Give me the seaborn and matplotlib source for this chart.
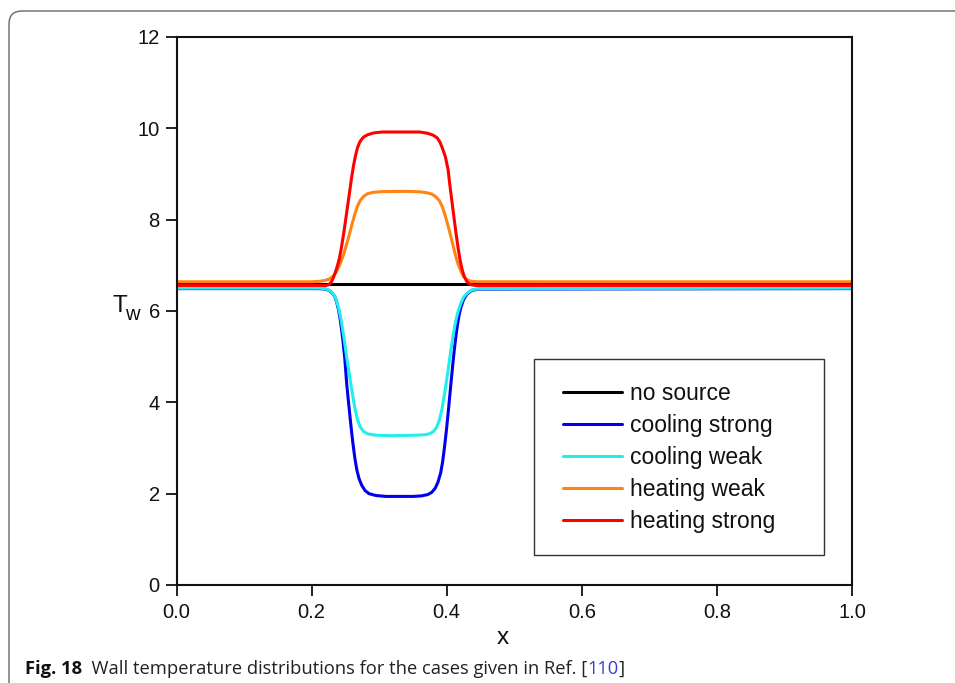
import numpy as np
import pandas as pd
import matplotlib
matplotlib.use("Agg")
import matplotlib.pyplot as plt
import seaborn as sns
from matplotlib.patches import FancyBboxPatch, Rectangle
from matplotlib.transforms import IdentityTransform
from matplotlib.offsetbox import TextArea, HPacker, AnchoredOffsetbox

# ---- wall temperature profiles T_w(x) ----
cases = ["no source", "cooling strong", "cooling weak", "heating weak", "heating strong"]
colors = ["#000000", "#0000ee", "#22eeee", "#ff8412", "#ff0000"]

x_none = [0.0, 1.0]
t_none = [6.60, 6.60]

x_cool_strong = [0.0, 0.210, 0.220, 0.226, 0.230, 0.234, 0.237, 0.240, 0.243, 0.246,
                 0.249, 0.252, 0.255, 0.258, 0.261, 0.264, 0.267, 0.270, 0.274, 0.279,
                 0.285, 0.295, 0.310, 0.350, 0.362, 0.372, 0.378, 0.383, 0.387, 0.391,
                 0.394, 0.397, 0.400, 0.403, 0.406, 0.409, 0.412, 0.415, 0.418, 0.421,
                 0.425, 0.430, 0.437, 0.447, 1.0]
t_cool_strong = [6.49, 6.49, 6.48, 6.45, 6.40, 6.32, 6.20, 6.02, 5.75, 5.40,
                 4.98, 4.40, 3.95, 3.52, 3.12, 2.78, 2.52, 2.34, 2.19, 2.07,
                 2.00, 1.96, 1.94, 1.94, 1.95, 1.98, 2.03, 2.12, 2.25, 2.45,
                 2.70, 3.05, 3.45, 3.90, 4.37, 4.83, 5.25, 5.60, 5.88, 6.08,
                 6.25, 6.37, 6.45, 6.48, 6.49]

x_cool_weak = [0.0, 0.212, 0.222, 0.228, 0.232, 0.236, 0.240, 0.244, 0.248, 0.252,
               0.256, 0.260, 0.264, 0.268, 0.272, 0.277, 0.283, 0.295, 0.320, 0.355,
               0.368, 0.376, 0.381, 0.385, 0.389, 0.393, 0.397, 0.401, 0.405, 0.409,
               0.413, 0.417, 0.421, 0.425, 0.430, 0.437, 0.447, 1.0]
t_cool_weak = [6.50, 6.50, 6.48, 6.44, 6.37, 6.26, 6.07, 5.78, 5.40, 4.98,
               4.60, 4.22, 3.88, 3.62, 3.46, 3.36, 3.31, 3.28, 3.27, 3.28,
               3.29, 3.32, 3.37, 3.45, 3.60, 3.85, 4.20, 4.60, 5.02, 5.42,
               5.76, 6.00, 6.17, 6.30, 6.39, 6.46, 6.49, 6.50]

x_heat_weak = [0.0, 0.200, 0.212, 0.220, 0.226, 0.231, 0.236, 0.240, 0.244, 0.248,
               0.252, 0.256, 0.260, 0.264, 0.268, 0.272, 0.277, 0.283, 0.292, 0.305,
               0.340, 0.360, 0.370, 0.378, 0.384, 0.389, 0.393, 0.397, 0.401, 0.405,
               0.409, 0.413, 0.417, 0.421, 0.425, 0.430, 0.436, 0.445, 1.0]
t_heat_weak = [6.64, 6.64, 6.65, 6.67, 6.70, 6.75, 6.84, 6.96, 7.10, 7.27,
               7.47, 7.68, 7.91, 8.12, 8.30, 8.42, 8.51, 8.57, 8.60, 8.615,
               8.62, 8.61, 8.59, 8.56, 8.50, 8.42, 8.30, 8.13, 7.92, 7.70,
               7.46, 7.22, 7.02, 6.87, 6.76, 6.69, 6.65, 6.64, 6.64]

x_heat_strong = [0.0, 0.215, 0.222, 0.226, 0.229, 0.232, 0.235, 0.238, 0.241, 0.244,
                 0.247, 0.250, 0.253, 0.256, 0.259, 0.262, 0.265, 0.268, 0.272, 0.277,
                 0.283, 0.292, 0.305, 0.360, 0.372, 0.380, 0.386, 0.390, 0.394, 0.398,
                 0.402, 0.405, 0.408, 0.411, 0.414, 0.417, 0.420, 0.423, 0.426, 0.430,
                 0.435, 0.442, 1.0]
t_heat_strong = [6.56, 6.56, 6.56, 6.58, 6.63, 6.72, 6.84, 6.98, 7.14, 7.38,
                 7.65, 7.95, 8.27, 8.58, 8.90, 9.18, 9.40, 9.58, 9.72, 9.81,
                 9.86, 9.90, 9.92, 9.92, 9.89, 9.85, 9.79, 9.70, 9.55, 9.38,
                 9.10, 8.72, 8.37, 8.02, 7.68, 7.37, 7.10, 6.90, 6.75, 6.64,
                 6.58, 6.56, 6.56]

x_ticks = [0.0, 0.2, 0.4, 0.6, 0.8, 1.0]
x_ticklabels = ["0.0", "0.2", "0.4", "0.6", "0.8", "1.0"]
y_ticks = [0, 2, 4, 6, 8, 10, 12]
y_ticklabels = ["0", "2", "4", "6", "8", "10", "12"]

profiles = [(x_none, t_none), (x_cool_strong, t_cool_strong), (x_cool_weak, t_cool_weak),
            (x_heat_weak, t_heat_weak), (x_heat_strong, t_heat_strong)]
df = pd.concat(
    [pd.DataFrame({"x": xs, "T": ts, "case": name}) for name, (xs, ts) in zip(cases, profiles)],
    ignore_index=True,
)

sns.set_theme(style="ticks")
plt.rcParams["font.family"] = ["Liberation Sans", "DejaVu Sans"]
plt.rcParams["axes.edgecolor"] = "#111111"
plt.rcParams["axes.linewidth"] = 1.5

W, H = 955, 683
fig = plt.figure(figsize=(W / 100, H / 100), dpi=100, facecolor="white")
ax = fig.add_axes([176.5 / W, 1 - 585 / H, 675.5 / W, 548 / H])

sns.lineplot(data=df, x="x", y="T", hue="case", hue_order=cases,
             palette=dict(zip(cases, colors)), linewidth=2.2, ax=ax,
             estimator=None, sort=False, legend=True)

ax.set_xlim(0, 1)
ax.set_ylim(0, 12)
ax.set_xticks(x_ticks)
ax.set_xticklabels(x_ticklabels)
ax.set_yticks(y_ticks)
ax.set_yticklabels(y_ticklabels)
ax.tick_params(axis="both", direction="out", length=8, width=1.3, labelsize=14.5,
               color="#111111", labelcolor="#111111", pad=4)
ax.tick_params(axis="x", pad=5)
for s in ax.spines.values():
    s.set_visible(True)
    s.set_linewidth(1.5)

ax.set_xlabel("x", fontsize=17.5, color="#111111")
ax.xaxis.label.set_va("center")
ax.xaxis.set_label_coords((503 - 176.5) / 675.5, -(638 - 585) / 548)
ax.set_ylabel("")
# T_w label beside the y axis
ax.text((112 - 176.5) / 675.5, (585 - 312) / 548, "T", transform=ax.transAxes,
        fontsize=17.5, ha="left", va="baseline", color="#111111")
ax.text((125 - 176.5) / 675.5, (585 - 320) / 548, "w", transform=ax.transAxes,
        fontsize=14.5, ha="left", va="baseline", color="#111111")

# legend with a fixed-size frame
handles, labels = ax.get_legend_handles_labels()
for h in handles:
    h.set_linewidth(2.2)
leg = ax.legend(handles, labels, loc="upper left",
                bbox_to_anchor=((563 - 176.5) / 675.5, (585 - 382) / 548),
                borderaxespad=0, borderpad=0, frameon=False, fontsize=16.5,
                handlelength=2.58, handletextpad=0.35, labelspacing=0.39)
for t in leg.get_texts():
    t.set_color("#111111")
ax.add_patch(Rectangle(((534 - 176.5) / 675.5, (585 - 555) / 548),
                       (824 - 534) / 675.5, (555 - 359) / 548,
                       transform=ax.transAxes, fill=False, edgecolor="#333333",
                       linewidth=1.0, zorder=5))

# rounded outer frame around the figure panel
frame = FancyBboxPatch((9, -40), 1000, (H - 11) + 40,
                       boxstyle="round,pad=0,rounding_size=13",
                       transform=IdentityTransform(), fill=False,
                       edgecolor="#666666", linewidth=1.0)
fig.patches.append(frame)

# caption
cap_font = ["Open Sans", "DejaVu Sans"]
cap_size = 13.2
parts = [
    TextArea("Fig. 18", textprops=dict(family=cap_font, size=cap_size, weight="bold", color="#111111")),
    TextArea("  Wall temperature distributions for the cases given in Ref. [",
             textprops=dict(family=cap_font, size=cap_size, color="#222222")),
    TextArea("110", textprops=dict(family=cap_font, size=cap_size, color="#3b3bd6")),
    TextArea("]", textprops=dict(family=cap_font, size=cap_size, color="#222222")),
]
caption = HPacker(children=parts, align="baseline", pad=0, sep=0)
anchored = AnchoredOffsetbox(loc="lower left", child=caption, pad=0, borderpad=0,
                             frameon=False, bbox_to_anchor=(25 / W, 1 - 678 / H),
                             bbox_transform=fig.transFigure)
fig.add_artist(anchored)

fig.savefig("out.png", dpi=100, facecolor="white")
